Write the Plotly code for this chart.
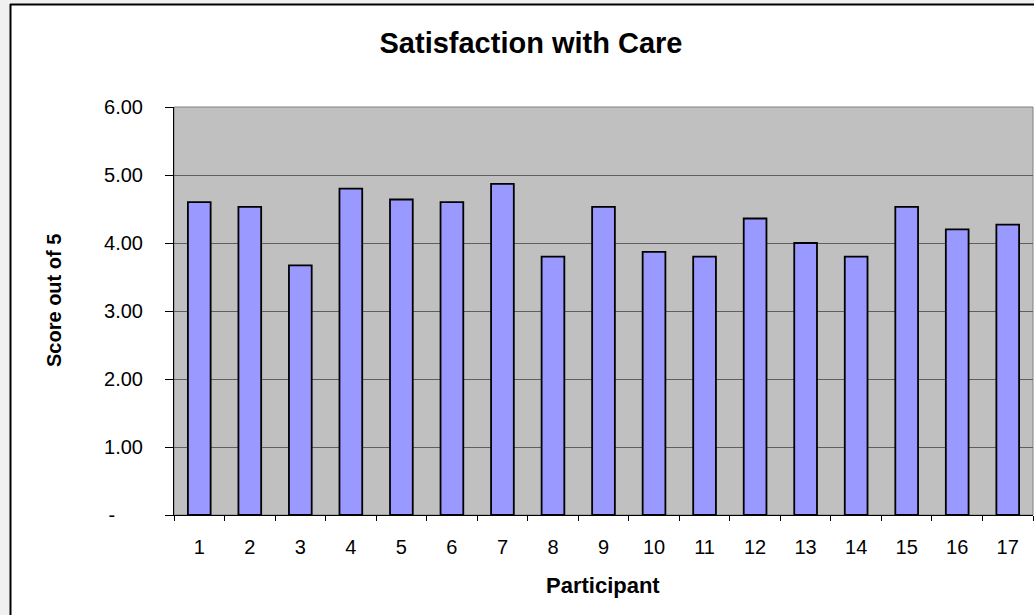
import plotly.graph_objects as go

# ---- data ----
participants = [str(i) for i in range(1, 18)]
scores = [4.60, 4.53, 3.67, 4.80, 4.64, 4.60, 4.87, 3.80, 4.53,
          3.87, 3.80, 4.36, 4.00, 3.80, 4.53, 4.20, 4.27]
y_tick_vals = [0, 1, 2, 3, 4, 5, 6]
y_tick_text = ["-" + "\u00a0" * 5, "1.00", "2.00", "3.00", "4.00", "5.00", "6.00"]

title_text = "Satisfaction with Care"
x_title = "Participant"
y_title = "Score out of 5"

# ---- layout geometry (pixels) ----
W, H = 1034, 615
L, R, T, B = 174, 1, 107, 100
PW = W - L - R
PH = H - T - B


def px(x):
    return (x - L) / PW


def py(y):
    return (H - B - y) / PH


FONT = "Liberation Sans, Arial, sans-serif"

fig = go.Figure()
fig.add_trace(go.Bar(
    x=participants, y=scores,
    marker=dict(color="#9999FF", line=dict(color="black", width=1.8)),
    hoverinfo="x+y",
))

shapes = [
    # plot-area border
    dict(type="rect", xref="paper", yref="paper", x0=0, x1=1, y0=0, y1=1,
         line=dict(color="#808080", width=1), fillcolor="rgba(0,0,0,0)", layer="below"),
    # grey strips outside the chart frame
    dict(type="rect", xref="paper", yref="paper", x0=px(-5), x1=px(10), y0=py(H + 5), y1=py(-5),
         line=dict(width=0), fillcolor="#f0f0f0", layer="above"),
    dict(type="rect", xref="paper", yref="paper", x0=px(-5), x1=px(W + 5), y0=py(4), y1=py(-5),
         line=dict(width=0), fillcolor="#f0f0f0", layer="above"),
    # chart frame lines
    dict(type="line", xref="paper", yref="paper", x0=px(10.5), x1=px(10.5), y0=py(4), y1=py(H + 5),
         line=dict(color="black", width=2), layer="above"),
    dict(type="line", xref="paper", yref="paper", x0=px(10), x1=px(W + 5), y0=py(4.5), y1=py(4.5),
         line=dict(color="black", width=2), layer="above"),
]

annotations = [
    dict(text=y_title, xref="paper", yref="paper", x=px(54), y=py(301),
         xanchor="center", yanchor="middle", textangle=-90, showarrow=False,
         font=dict(family=FONT, size=20, color="black", weight="bold")),
    dict(text=x_title, xref="paper", yref="paper", x=px(603), y=py(585),
         xanchor="center", yanchor="middle", showarrow=False,
         font=dict(family=FONT, size=22, color="black", weight="bold")),
]

fig.update_layout(
    width=W, height=H,
    margin=dict(l=L, r=R, t=T, b=B),
    paper_bgcolor="white", plot_bgcolor="#C0C0C0",
    title=dict(text=title_text, x=531 / W, xref="container", xanchor="center",
               y=1 - 43 / H, yref="container", yanchor="middle",
               font=dict(family=FONT, size=29, color="black", weight="bold")),
    bargap=0.55,
    showlegend=False,
    shapes=shapes,
    annotations=annotations,
    font=dict(family=FONT, color="black"),
)

fig.update_xaxes(
    type="category", showline=True, linecolor="black", linewidth=1,
    ticks="outside", tickson="boundaries", ticklen=5, tickcolor="black",
    tickfont=dict(family=FONT, size=20, color="black"),
    ticklabelstandoff=14, showgrid=False,
)
fig.update_yaxes(
    range=[0, 6], tickvals=y_tick_vals, ticktext=y_tick_text,
    showline=True, linecolor="black", linewidth=1,
    ticks="outside", ticklen=8, tickcolor="black",
    tickfont=dict(family=FONT, size=20, color="black"),
    ticklabelstandoff=18,
    showgrid=True, gridcolor="#5f5f5f", gridwidth=1, zeroline=False,
)

fig.write_html("out.html",
               config={"displayModeBar": False},
               post_script="document.body.style.margin='0';document.body.style.padding='0';")
